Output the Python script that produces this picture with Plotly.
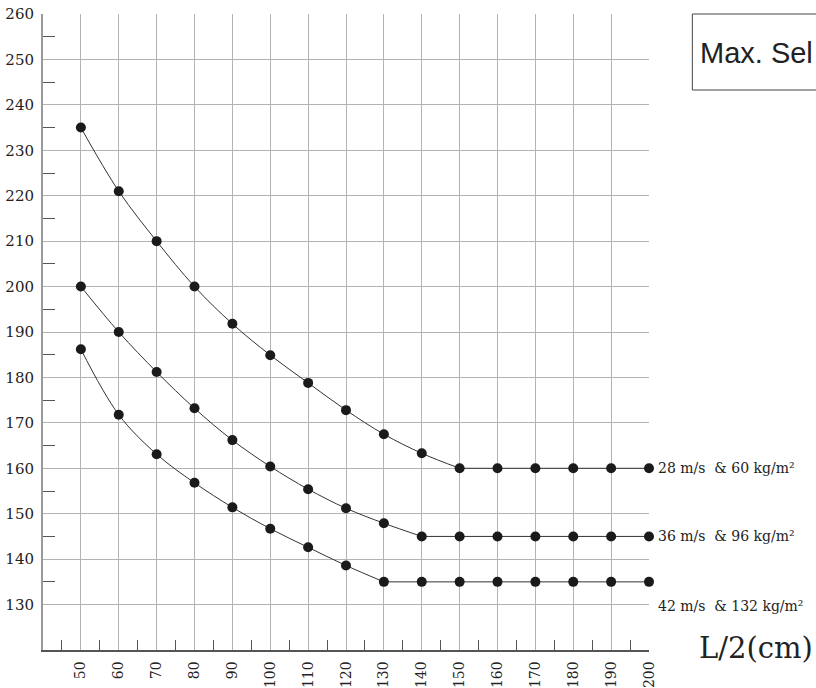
import plotly.graph_objects as go

# ---- data ----
L_half = [50, 60, 70, 80, 90, 100, 110, 120, 130, 140, 150, 160, 170, 180, 190, 200]
s_28 = [235, 221, 210, 200, 191.8, 184.9, 178.8, 172.8, 167.5, 163.3, 160, 160, 160, 160, 160, 160]
s_36 = [200, 190, 181.2, 173.2, 166.2, 160.4, 155.4, 151.2, 147.9, 145, 145, 145, 145, 145, 145, 145]
s_42 = [186.2, 171.8, 163.1, 156.8, 151.4, 146.7, 142.6, 138.6, 135, 135, 135, 135, 135, 135, 135, 135]
series_labels = ["28 m/s  & 60 kg/m²", "36 m/s  & 96 kg/m²", "42 m/s  & 132 kg/m²"]
x_ticks = list(range(50, 201, 10))
y_ticks = list(range(130, 261, 10))
x_minor = list(range(45, 200, 10))
y_minor = list(range(135, 260, 10))

SERIF = "DejaVu Serif"
TXT = "#222222"

fig = go.Figure()
for ys in (s_28, s_36, s_42):
    # index where the curve reaches its final plateau
    k = next(i for i, v in enumerate(ys) if v == ys[-1])
    fig.add_trace(go.Scatter(
        x=L_half[:k + 1], y=ys[:k + 1], mode="lines",
        line=dict(color="#333333", width=1, shape="spline", smoothing=1),
        showlegend=False, hoverinfo="skip"))
    fig.add_trace(go.Scatter(
        x=L_half[k:], y=ys[k:], mode="lines",
        line=dict(color="#333333", width=1),
        showlegend=False, hoverinfo="skip"))
    fig.add_trace(go.Scatter(
        x=L_half, y=ys, mode="markers",
        marker=dict(color="#1a1a1a", size=10),
        showlegend=False, hoverinfo="skip", cliponaxis=False))

# right-hand series labels
label_shift = [0, 0, -24]
for ys, txt, sh in zip((s_28, s_36, s_42), series_labels, label_shift):
    fig.add_annotation(x=L_half[-1], y=ys[-1], xref="x", yref="y", text=txt,
                       showarrow=False, xanchor="left", yanchor="middle",
                       xshift=7, yshift=sh,
                       font=dict(family=SERIF, size=14, color=TXT))

# axis title at lower right
fig.add_annotation(x=1.079, y=0.003, xref="paper", yref="paper", text="L/2(cm)",
                   showarrow=False, xanchor="left", yanchor="middle",
                   font=dict(family=SERIF, size=29, color=TXT))

# clipped legend box
fig.add_shape(type="rect", xref="paper", yref="paper",
              x0=1.0715, x1=1.6, y0=0.8805, y1=1.0,
              line=dict(color="#444444", width=1), fillcolor="rgba(0,0,0,0)")
fig.add_annotation(x=1.0809, y=0.9387, xref="paper", yref="paper",
                   text="Max. Sel", showarrow=False,
                   xanchor="left", yanchor="middle",
                   font=dict(family="Liberation Sans, Arial", size=29, color=TXT))

fig.update_xaxes(
    range=[40, 200], tickmode="array", tickvals=x_ticks,
    ticktext=[str(v) for v in x_ticks], tickangle=-90,
    tickfont=dict(family=SERIF, size=14, color=TXT),
    showgrid=True, gridcolor="#b3b3b3", gridwidth=1,
    zeroline=False, showline=True, linecolor="#555555", linewidth=1.5,
    ticks="", ticklabelstandoff=4, automargin=False,
    minor=dict(tickmode="array", tickvals=x_minor, ticks="inside",
               ticklen=10, tickcolor="#555555", tickwidth=1, showgrid=False),
)
fig.update_yaxes(
    range=[120, 260], tickmode="array", tickvals=y_ticks,
    ticktext=[str(v) for v in y_ticks],
    tickfont=dict(family=SERIF, size=15, color=TXT),
    showgrid=True, gridcolor="#b3b3b3", gridwidth=1,
    zeroline=False, showline=True, linecolor="#9a9a9a", linewidth=2,
    ticks="", ticklabelstandoff=4, automargin=False,
    minor=dict(tickmode="array", tickvals=y_minor, ticks="inside",
               ticklen=12, tickcolor="#555555", tickwidth=1, showgrid=False),
)

fig.update_layout(
    width=816, height=688,
    margin=dict(l=43, r=167, t=14, b=38, autoexpand=False),
    paper_bgcolor="white", plot_bgcolor="white",
)

fig.write_html("out.html", config={"displayModeBar": False},
               post_script="document.body.style.margin='0';")
